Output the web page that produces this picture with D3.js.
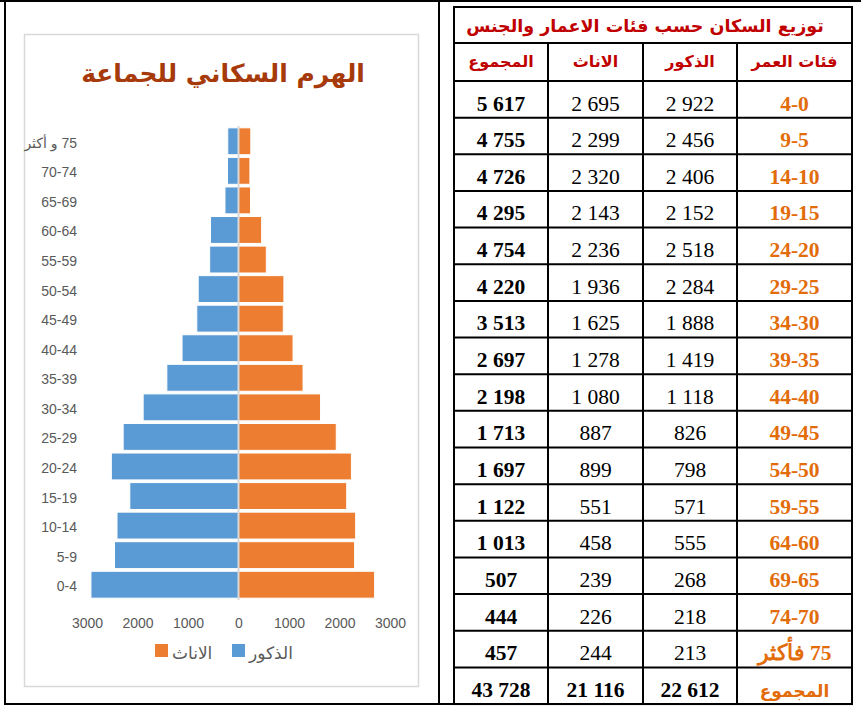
<!DOCTYPE html>
<html>
<head>
<meta charset="utf-8">
<script src="https://cdn.jsdelivr.net/npm/d3@7"></script>
<style>
  body { margin: 0; background: #fff; }
</style>
</head>
<body>
<div id="page"></div>
<script>
// الفئات العمرية من الأسفل الى الاعلى
const ageGroups = ["0-4", "5-9", "10-14", "15-19", "20-24", "25-29", "30-34", "35-39",
  "40-44", "45-49", "50-54", "55-59", "60-64", "65-69", "70-74", "75 و أكثر"];
const males   = [2922, 2456, 2406, 2152, 2518, 2284, 1888, 1419, 1118, 826, 798, 571, 555, 268, 218, 213];
const females = [2695, 2299, 2320, 2143, 2236, 1936, 1625, 1278, 1080, 887, 899, 551, 458, 239, 226, 244];
const totals  = [5617, 4755, 4726, 4295, 4754, 4220, 3513, 2697, 2198, 1713, 1697, 1122, 1013, 507, 444, 457];
const tableAges = ["4-0", "9-5", "14-10", "19-15", "24-20", "29-25", "34-30", "39-35",
  "44-40", "49-45", "54-50", "59-55", "64-60", "69-65", "74-70", "75 فأكثر"];
const sumLabel = "المجموع";
const sumRow = [43728, 21116, 22612]; // المجموع، الاناث، الذكور
const tableHeaders = ["المجموع", "الاناث", "الذكور", "فئات العمر"];
const xTicks = [-3000, -2000, -1000, 0, 1000, 2000, 3000];

const chartTitle = "الهرم السكاني للجماعة";
const tableTitle = "توزيع السكان حسب فئات الاعمار والجنس";

const blue = "#5B9BD5", orange = "#ED7D31", grayText = "#595959";
const rtl = s => /[\u0600-\u06FF]/.test(s) ? "\u200F" + s : s;
const fmt = v => d3.format(",")(v).replace(/,/g, " ");

const svg = d3.select("#page").append("svg")
    .attr("width", 861)
    .attr("height", 706);

// الاطار الخارجي
const frame = svg.append("g").attr("stroke", "#000").attr("stroke-width", 2);
frame.append("line").attr("x1", 0).attr("x2", 861).attr("y1", 1).attr("y2", 1);
frame.append("line").attr("x1", 4).attr("x2", 853).attr("y1", 704).attr("y2", 704);
frame.append("line").attr("x1", 5).attr("x2", 5).attr("y1", 0).attr("y2", 705);
frame.append("line").attr("x1", 439).attr("x2", 439).attr("y1", 0).attr("y2", 705);

// ----- الهرم -----
svg.append("rect")
    .attr("x", 24.5).attr("y", 34.5)
    .attr("width", 394).attr("height", 652)
    .attr("fill", "#fff")
    .attr("stroke", "#D9D9D9")
    .attr("stroke-width", 1.5);

svg.append("text")
    .attr("x", 223).attr("y", 82)
    .attr("text-anchor", "middle")
    .attr("font-family", "DejaVu Sans, sans-serif")
    .attr("font-weight", "bold")
    .attr("font-size", 25)
    .attr("fill", "#A63A0A")
    .text(rtl(chartTitle));

const x = d3.scaleLinear().domain([-3000, 3000]).range([87, 390]);
const y = d3.scaleBand().domain(ageGroups).range([599.5, 126.5]).paddingInner(0.09).paddingOuter(0.045);

const rows = ageGroups.map((a, i) => ({age: a, m: males[i], f: females[i]}));

svg.append("g").selectAll("rect")
  .data(rows)
  .join("rect")
    .attr("x", d => x(-d.m))
    .attr("y", d => y(d.age))
    .attr("width", d => x(0) - x(-d.m))
    .attr("height", y.bandwidth())
    .attr("fill", blue)
    .attr("stroke", "#fff")
    .attr("stroke-width", 1);

svg.append("g").selectAll("rect")
  .data(rows)
  .join("rect")
    .attr("x", x(0))
    .attr("y", d => y(d.age))
    .attr("width", d => x(d.f) - x(0))
    .attr("height", y.bandwidth())
    .attr("fill", orange)
    .attr("stroke", "#fff")
    .attr("stroke-width", 1);

svg.append("line")
    .attr("x1", x(0)).attr("x2", x(0))
    .attr("y1", 126).attr("y2", 600)
    .attr("stroke", "#D9D9D9")
    .attr("stroke-width", 2);

// المحور الافقي
const xAxis = svg.append("g")
    .attr("transform", "translate(0,618)")
    .call(d3.axisBottom(x).tickValues(xTicks).tickSize(0).tickPadding(0).tickFormat(d => Math.abs(d)));
xAxis.select(".domain").remove();
xAxis.selectAll("text")
    .attr("dy", "0.71em")
    .attr("fill", grayText)
    .attr("font-family", "Liberation Sans, DejaVu Sans, sans-serif")
    .attr("font-size", 14);

// المحور العمودي
const yAxis = svg.append("g")
    .attr("transform", "translate(77,2)")
    .call(d3.axisLeft(y).tickSize(0).tickPadding(0).tickFormat(rtl));
yAxis.select(".domain").remove();
yAxis.selectAll("text")
    .attr("fill", grayText)
    .attr("font-family", "Liberation Sans, DejaVu Sans, sans-serif")
    .attr("font-size", 14);

// وسيلة الايضاح
const legend = svg.append("g").attr("font-family", "DejaVu Sans, sans-serif").attr("font-size", 17).attr("fill", grayText);
[{c: orange, t: "الاناث", x: 155}, {c: blue, t: "الذكور", x: 232}].forEach(l => {
  legend.append("rect").attr("x", l.x).attr("y", 644).attr("width", 13).attr("height", 13).attr("fill", l.c);
  legend.append("text").attr("x", l.x + 17).attr("y", 659).text(rtl(l.t));
});

// ----- الجدول -----
const colEdges = [454, 548, 643, 737, 852];
const colMid = i => (colEdges[i] + colEdges[i + 1]) / 2;
const rowTop = 81, rowH = 36.65;
const nRows = ageGroups.length + 1;
const tableBottom = rowTop + nRows * rowH;

const grid = svg.append("g").attr("stroke", "#000").attr("stroke-width", 2);
grid.append("rect").attr("x", colEdges[0]).attr("y", 7)
    .attr("width", colEdges[4] - colEdges[0]).attr("height", tableBottom - 7).attr("fill", "none");
grid.append("line").attr("x1", colEdges[0]).attr("x2", colEdges[4]).attr("y1", 43).attr("y2", 43);
d3.range(nRows).forEach(i => {
  grid.append("line").attr("x1", colEdges[0]).attr("x2", colEdges[4])
      .attr("y1", rowTop + i * rowH).attr("y2", rowTop + i * rowH);
});
colEdges.slice(1, 4).forEach(cx => {
  grid.append("line").attr("x1", cx).attr("x2", cx).attr("y1", 43).attr("y2", tableBottom);
});

svg.append("text")
    .attr("x", 645).attr("y", 32)
    .attr("text-anchor", "middle")
    .attr("font-family", "DejaVu Sans, sans-serif")
    .attr("font-weight", "bold")
    .attr("font-size", 17.5)
    .attr("fill", "#C00000")
    .text(rtl(tableTitle));

svg.append("g").selectAll("text")
  .data(tableHeaders)
  .join("text")
    .attr("x", (d, i) => colMid(i))
    .attr("y", 67)
    .attr("text-anchor", "middle")
    .attr("font-family", "DejaVu Sans, sans-serif")
    .attr("font-weight", "bold")
    .attr("font-size", 16)
    .attr("fill", "#C00000")
    .text(d => rtl(d));

// صفوف الجدول
const tableRows = tableAges.map((a, i) => [totals[i], females[i], males[i], a]);
tableRows.push([sumRow[0], sumRow[1], sumRow[2], sumLabel]);

const cells = svg.append("g").attr("text-anchor", "middle");
tableRows.forEach((r, i) => {
  const by = rowTop + i * rowH + 29.5;
  const last = i === tableRows.length - 1;
  r.forEach((v, j) => {
    const isAge = j === 3;
    cells.append("text")
        .attr("x", colMid(j))
        .attr("y", by)
        .attr("font-family", isAge && last ? "DejaVu Sans, sans-serif" : "Liberation Serif, serif")
        .attr("font-weight", (j === 0 || isAge || last) ? "bold" : "normal")
        .attr("font-size", isAge && last ? 17 : 21.5)
        .attr("fill", isAge ? "#E36C0A" : "#000")
        .text(isAge ? rtl(v) : fmt(v));
  });
});
</script>
</body>
</html>
